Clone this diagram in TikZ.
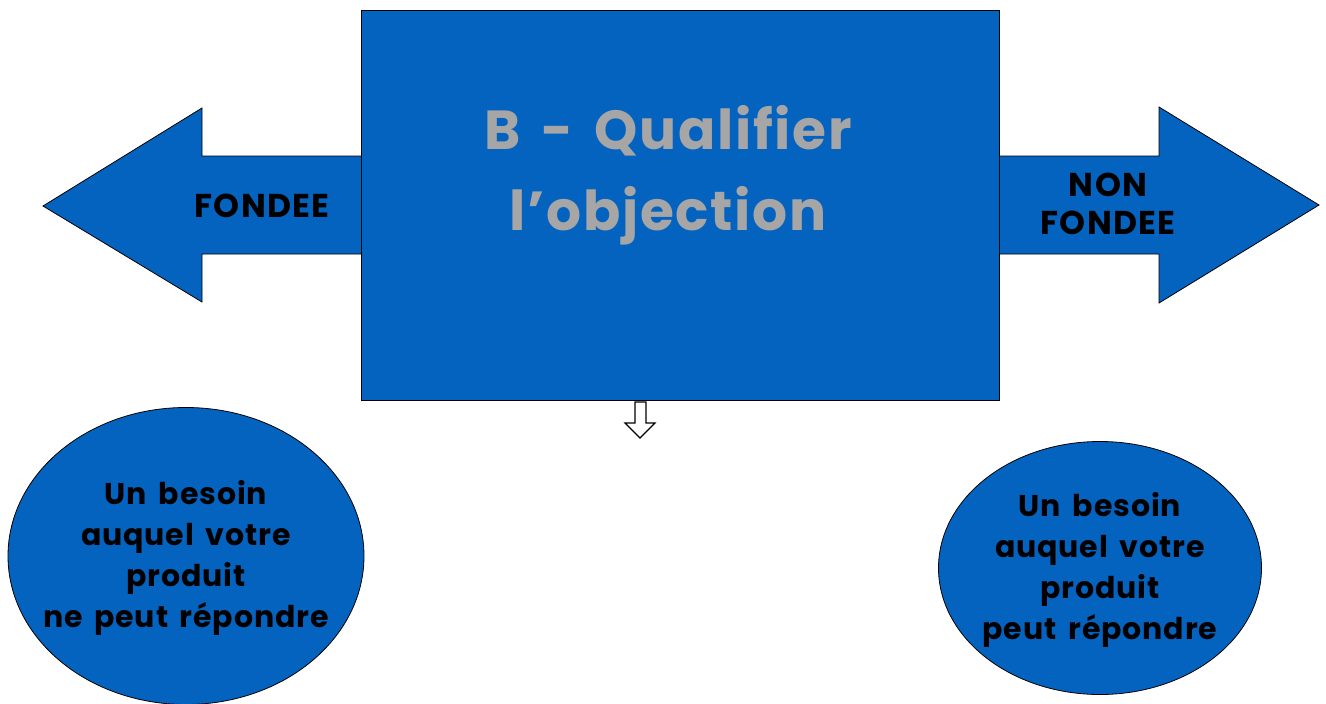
\documentclass[tikz,border=0pt]{standalone}
\usepackage{fontspec}
\setmainfont{Poppins}
\newfontfamily\labelfont{Poppins}[LetterSpace=3, WordSpace=1.6]
\newfontfamily\sidefont{Poppins}[LetterSpace=4]
\usetikzlibrary{shapes.geometric}
\definecolor{boxblue}{RGB}{5,99,192}
\definecolor{titlegray}{RGB}{166,166,166}
\tikzset{
  shapefill/.style={fill=boxblue, draw=black, line width=0.8pt, line join=miter},
  lbl/.style={font=\labelfont\bfseries\fontsize{30}{41}\selectfont, text=black, align=center, inner sep=0pt},
  sidelbl/.style={font=\sidefont\bfseries\fontsize{33}{38}\selectfont, text=black, align=center, inner sep=0pt},
}
\begin{document}
\begin{tikzpicture}[x=1pt, y=-1pt]
  \useasboundingbox (0,0) rectangle (1326,704);
  % left arrow (FONDEE)
  \draw[shapefill] (361,156) -- (202,156) -- (202,108) -- (43,206) -- (202,302) -- (202,254) -- (361,254);
  % right arrow (NON FONDEE)
  \draw[shapefill] (999,156) -- (1159,156) -- (1159,107) -- (1319,205) -- (1159,303) -- (1159,254) -- (999,254);
  % central box
  \node[shapefill, rectangle, minimum width=638pt, minimum height=390pt, inner sep=0pt, anchor=north west] (box) at (361,10) {};
  \node[font=\labelfont\bfseries\fontsize{55}{81}\selectfont, text=titlegray, align=center, inner sep=0pt] (title) at (668,175) {B - Qualifier\\l’objection};
  % side labels
  \node[sidelbl] (fondee) at (262,206) {FONDEE};
  \node[sidelbl] (nonfondee) at (1108,204) {NON\\FONDEE};
  % small hollow down arrow
  \draw[fill=white, draw=black, line width=1.2pt, line join=miter]
    (635,402) -- (646,402) -- (646,423) -- (655,423) -- (640,438) -- (625,423) -- (635,423) -- cycle;
  % ellipses
  \node[shapefill, ellipse, minimum width=356pt, minimum height=297pt, inner sep=0pt] (left) at (186,556) {};
  \node[lbl] (lefttext) at (186,558) {Un besoin\\auquel votre\\produit\\ne peut répondre};
  \node[shapefill, ellipse, minimum width=323pt, minimum height=253pt, inner sep=0pt] (right) at (1100,568) {};
  \node[lbl] (righttext) at (1100,570) {Un besoin\\auquel votre\\produit\\peut répondre};
\end{tikzpicture}
\end{document}
